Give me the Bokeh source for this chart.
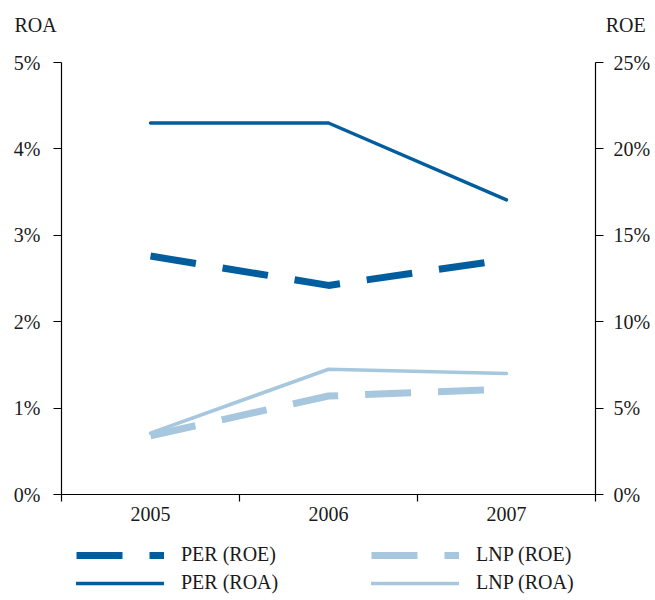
from bokeh.plotting import figure
from bokeh.models import (Range1d, LinearAxis, FixedTicker, PrintfTickFormatter,
                          Label, Legend, LegendItem, ColumnDataSource)
from bokeh.embed import file_html
from bokeh.resources import INLINE

years = ["2005", "2006", "2007"]
per_roa = [4.30, 4.30, 3.41]      # % (left axis)
lnp_roa = [0.71, 1.45, 1.40]      # % (left axis)
per_roe = [13.8, 12.1, 13.6]      # % (right axis)
lnp_roe = [3.4, 5.7, 6.1]         # % (right axis)
roa_ticks = [0, 1, 2, 3, 4, 5]
roe_ticks = [0, 5, 10, 15, 20, 25]

DARK = "#005e9e"
LIGHT = "#a6c7de"
FONT = "Liberation Serif"
TXT = "#1a1a1a"

W, H = 655, 600
# plot box in pixels: left 61, right 595, top 62, bottom 494
PX_X = (595 - 61) / len(years)
PX_Y = (494 - 62) / 5.0
x0 = -61 / PX_X
x1 = len(years) + (W - 595) / PX_X
y0 = -(H - 494) / PX_Y
y1 = 5 + 62 / PX_Y

xs = [i + 0.5 for i in range(len(years))]

p = figure(width=W, height=H, output_backend="svg", toolbar_location=None,
           x_range=Range1d(x0, x1), y_range=Range1d(y0, y1),
           min_border=0, x_axis_location=None, y_axis_location=None)
p.outline_line_color = None
p.xgrid.visible = False
p.ygrid.visible = False
p.extra_y_ranges = {"roe": Range1d(y0 * 5, y1 * 5)}

src = ColumnDataSource(dict(x=xs, per_roa=per_roa, lnp_roa=lnp_roa,
                            per_roe=per_roe, lnp_roe=lnp_roe))

r_per_roe = p.line("x", "per_roe", source=src, y_range_name="roe", line_color=DARK,
                   line_width=7, line_dash="46 27")
r_lnp_roe = p.line("x", "lnp_roe", source=src, y_range_name="roe", line_color=LIGHT,
                   line_width=7, line_dash="46 27")
r_per_roa = p.line("x", "per_roa", source=src, line_color=DARK, line_width=3.4,
                   line_cap="round", line_join="round")
r_lnp_roa = p.line("x", "lnp_roa", source=src, line_color=LIGHT, line_width=3.6,
                   line_cap="round", line_join="round")

def style(ax):
    ax.axis_line_color = "black"
    ax.axis_line_width = 1.2
    ax.major_tick_line_color = "black"
    ax.major_tick_line_width = 1.2
    ax.major_tick_in = 0
    ax.major_tick_out = 8
    ax.minor_tick_line_color = None
    ax.major_label_text_font = FONT
    ax.major_label_text_font_size = "20px"
    ax.major_label_text_color = TXT

xaxis = LinearAxis(ticker=FixedTicker(ticks=xs, minor_ticks=list(range(len(years) + 1))),
                   fixed_location=0, bounds=(0, len(years)))
style(xaxis)
xaxis.major_label_overrides = {x: y for x, y in zip(xs, years)}
xaxis.major_tick_line_color = None
xaxis.major_tick_out = 0
xaxis.minor_tick_line_color = "black"
xaxis.minor_tick_line_width = 1.2
xaxis.minor_tick_in = 0
xaxis.minor_tick_out = 7
xaxis.major_label_standoff = 5
p.add_layout(xaxis, "below")

yl = LinearAxis(ticker=FixedTicker(ticks=roa_ticks), formatter=PrintfTickFormatter(format="%d%%"),
                fixed_location=0, bounds=(0, 5))
style(yl)
yl.major_label_standoff = 13
p.add_layout(yl, "left")

yr = LinearAxis(y_range_name="roe", ticker=FixedTicker(ticks=roe_ticks),
                formatter=PrintfTickFormatter(format="%d%%"),
                fixed_location=len(years), bounds=(0, 25))
style(yr)
yr.major_label_standoff = 10
p.add_layout(yr, "right")

for txt, xv in (("ROA", -0.146), ("ROE", 3.17)):
    p.add_layout(Label(x=xv, y=5.43, text=txt, text_align="center", text_baseline="middle",
                       text_font=FONT, text_font_size="20px", text_color=TXT))

legend = Legend(items=[
    LegendItem(label="PER (ROE)", renderers=[r_per_roe]),
    LegendItem(label="LNP (ROE)", renderers=[r_lnp_roe]),
    LegendItem(label="PER (ROA)", renderers=[r_per_roa]),
    LegendItem(label="LNP (ROA)", renderers=[r_lnp_roa]),
], orientation="horizontal", ncols=2, location=(76, 6))
legend.glyph_width = 88
legend.glyph_height = 22
legend.label_height = 22
legend.label_width = 185
legend.label_standoff = 17
legend.spacing = 5
legend.padding = 0
legend.margin = 0
legend.border_line_color = None
legend.background_fill_alpha = 0
legend.label_text_font = FONT
legend.label_text_font_size = "20px"
legend.label_text_color = TXT
p.add_layout(legend, "center")

open("out.html", "w").write(file_html(p, INLINE))
